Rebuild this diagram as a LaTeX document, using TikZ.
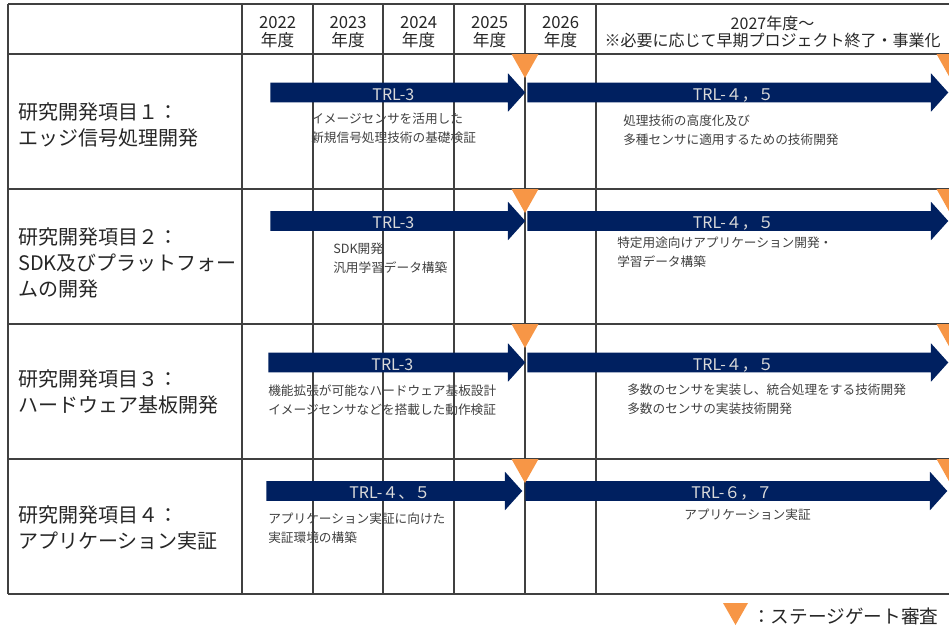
\documentclass[tikz,border=0pt]{standalone}
\usepackage{fontspec}
\setmainfont{Noto Sans CJK JP}
\usetikzlibrary{positioning, shapes.arrows}

\definecolor{navy}{HTML}{002060}
\definecolor{gate}{HTML}{F79646}
\definecolor{gridgray}{HTML}{404040}
\definecolor{desc}{HTML}{404040}
\definecolor{trltext}{HTML}{DADADA}

\begin{document}
\begin{tikzpicture}[x=0.75pt, y=-0.75pt,
			year/.style={
				align=center,
				inner sep=0pt,
				text=black!85,
				font=\fontsize{12.5}{13}\selectfont
			},
			item/.style={
				anchor=west,
				align=left,
				inner sep=0pt,
				text=black!85,
				font=\fontsize{15}{19.5}\selectfont
			},
			note/.style={
				anchor=west,
				align=left,
				inner sep=0pt,
				text=desc,
				font=\fontsize{9.5}{14.25}\selectfont
			},
			trl/.style={
				single arrow,
				anchor=tail,
				fill=navy,
				draw=none,
				text=trltext,
				font=\fontsize{12}{13}\selectfont,
				text height=11.25pt,
				text depth=0pt,
				inner xsep=0pt,
				inner ysep=1.5pt,
				single arrow head extend=7.1pt,
				single arrow tip angle=96
			},
			gridline/.style={draw=gridgray, line width=1pt}
			]
			\useasboundingbox (0,0) rectangle (949,629);
			\clip (0,0) rectangle (949,629);
			
			% Cabecera de años
			\node[year] (y2022) at (277.5,32) {2022\\年度};
			\node[year] (y2023) at (348,32) {2023\\年度};
			\node[year] (y2024) at (418.5,32) {2024\\年度};
			\node[year] (y2025) at (489.5,32) {2025\\年度};
			\node[year] (y2026) at (560.5,32) {2026\\年度};
			\node[year, font=\fontsize{12}{13}\selectfont] (y2027) at (772.5,32) {2027年度～\\※必要に応じて早期プロジェクト終了・事業化};
			
			% Items de investigación
			\node[item] (item1) at (18,125) {研究開発項目１：\\エッジ信号処理開発};
			\node[item] (item2) at (18,263) {研究開発項目２：\\SDK及びプラットフォー\\ムの開発};
			\node[item] (item3) at (18,392) {研究開発項目３：\\ハードウェア基板開発};
			\node[item] (item4) at (18,528) {研究開発項目４：\\アプリケーション実証};
			
			% Descripciones
			\node[note] (note1a) at (311,128.5) {イメージセンサを活用した\\新規信号処理技術の基礎検証};
			\node[note] (note1b) at (623,130) {処理技術の高度化及び\\多種センサに適用するための技術開発};
			\node[note] (note2a) at (333,258.5) {SDK開発\\汎用学習データ構築};
			\node[note] (note2b) at (617,252) {特定用途向けアプリケーション開発・\\学習データ構築};
			\node[note] (note3a) at (268,400) {機能拡張が可能なハードウェア基板設計\\イメージセンサなどを搭載した動作検証};
			\node[note] (note3b) at (627,399) {多数のセンサを実装し、統合処理をする技術開発\\多数のセンサの実装技術開発};
			\node[note] (note4a) at (268,528) {アプリケーション実証に向けた\\実証環境の構築};
			\node[note, anchor=center] (note4b) at (747.5,515) {アプリケーション実証};
			
			% Rejilla de la tabla
			\foreach \y in {4,54,189,324,459,594}
				\draw[gridline] (8,\y) -- (949,\y);
			\foreach \x in {8,242,313,383,454,525,596}
				\draw[gridline] (\x,4) -- (\x,594);
			
			% Flechas TRL
			\node[trl, minimum height=191.25pt] (trl1a) at (270,92.5) {TRL-3};
			\node[trl, minimum height=315.75pt] (trl1b) at (527,92.5) {TRL-４，５};
			\node[trl, minimum height=191.25pt] (trl2a) at (270,221) {TRL-3};
			\node[trl, minimum height=315.75pt] (trl2b) at (527,221) {TRL-４，５};
			\node[trl, minimum height=192.75pt] (trl3a) at (268,362.5) {TRL-3};
			\node[trl, minimum height=315.75pt] (trl3b) at (527,362.5) {TRL-４，５};
			\node[trl, minimum height=192pt] (trl4a) at (266,491) {TRL-４、５};
			\node[trl, minimum height=316.5pt] (trl4b) at (525,491) {TRL-６，７};
			
			% Stage gates
			\foreach \y in {54,189,324,459}
				\foreach \x in {525,950}
					\fill[gate] (\x-13.5,\y) -- (\x+13.5,\y) -- (\x,\y+24) -- cycle;
			
			% Leyenda
			\fill[gate] (723,603) -- (748,603) -- (735.5,625) -- cycle;
			\node[anchor=west, inner sep=0pt, text=black!85, font=\fontsize{14}{16}\selectfont] (legend) at (752,616) {：ステージゲート審査};
			
		\end{tikzpicture}
\end{document}
